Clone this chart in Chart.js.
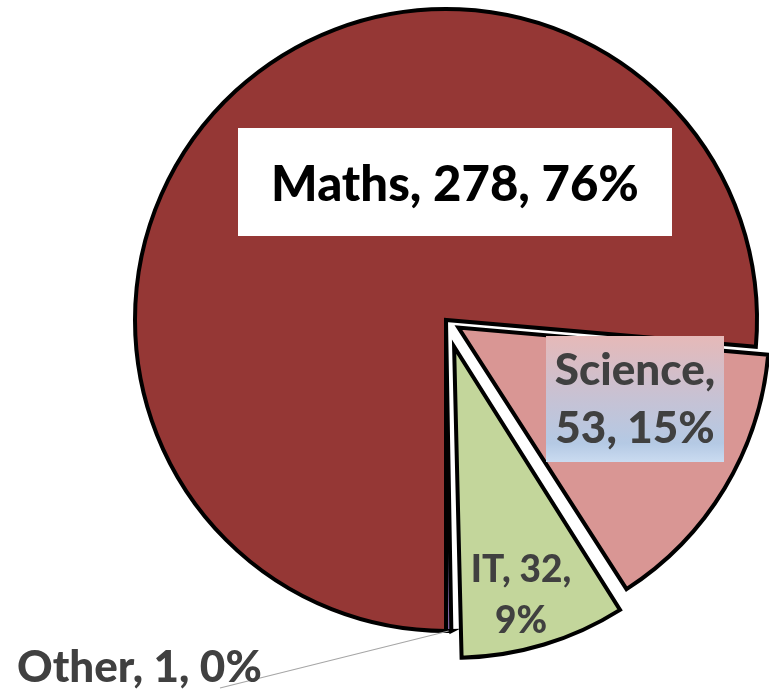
<!DOCTYPE html>
<html>
<head>
<meta charset="utf-8">
<script src="https://cdn.jsdelivr.net/npm/chart.js@4/dist/chart.umd.min.js"></script>
<style>
  html, body { margin: 0; padding: 0; background: #ffffff; }
  #wrap { width: 769px; height: 689px; }
</style>
</head>
<body>
<div id="wrap"><canvas id="c" width="769" height="689"></canvas></div>
<script>
// ---- data ----
const categories = ['Maths', 'Science', 'IT', 'Other'];
const values = [278, 53, 32, 1];

// ---- styles ----
const sliceColors = ['#953735', '#D99694', '#C3D69B', '#8064A2'];
const sliceOffsets = [0, 58, 112, 0];   // Chart.js offset units (px*4 along mid-angle)

const total = values.reduce((a, b) => a + b, 0);

// label layout relative to pie centre
const labelLayout = [
  { font: '900 49px Lato', color: '#000000', wrap: 3, cx: 9, base: [-119], box: { x: -208, y: -192, w: 434, h: 108, fill: 'white' } },
  { font: '900 44px Lato', color: '#404040', wrap: 1, cx: 189, base: [65, 123], box: { x: 100, y: 16, w: 178, h: 126, fill: 'grad' } },
  { font: '900 37px Lato', color: '#404040', wrap: 2, cx: 75, base: [262, 313] },
  { font: '900 44px Lato', color: '#404040', wrap: 3, left: -429, base: [362], leader: { x: -226, y: 368 } }
];

const fixRadiusPlugin = {
  id: 'fixRadius',
  afterDatasetsUpdate(chart) {
    const meta = chart.getDatasetMeta(0);
    meta.data.forEach(el => {
      const off = (el.options && el.options.offset || 0) / 4;
      const fix = 1 - Math.sin(Math.min(Math.PI, el.circumference || 0));
      el.outerRadius = el.outerRadius - off * fix;
    });
  }
};

const labelPlugin = {
  id: 'sliceLabels',
  afterDatasetsDraw(chart) {
    const ctx = chart.ctx;
    const meta = chart.getDatasetMeta(0);
    const c0 = meta.data[0];
    const cx = c0.x, cy = c0.y;
    ctx.save();
    meta.data.forEach((el, i) => {
      const L = labelLayout[i];
      const pct = Math.round(values[i] / total * 100);
      const parts = [categories[i], String(values[i]), pct + '%'];
      let lines;
      if (L.wrap >= 3) lines = [parts.join(', ')];
      else lines = [parts.slice(0, L.wrap).join(', ') + ',', parts.slice(L.wrap).join(', ')];

      if (L.leader) {
        const mid = (el.startAngle + el.endAngle) / 2;
        const r = el.outerRadius;
        ctx.strokeStyle = '#A6A6A6';
        ctx.lineWidth = 1.2;
        ctx.beginPath();
        ctx.moveTo(el.x + Math.cos(mid) * r, el.y + Math.sin(mid) * r);
        ctx.lineTo(cx + L.leader.x, cy + L.leader.y);
        ctx.stroke();
      }
      if (L.box) {
        const b = L.box;
        const bx = cx + b.x, by = cy + b.y;
        if (b.fill === 'grad') {
          const g = ctx.createLinearGradient(0, by, 0, by + b.h);
          g.addColorStop(0, '#E6B9B8');
          g.addColorStop(0.45, '#C9C1D2');
          g.addColorStop(0.85, '#B4C9E4');
          g.addColorStop(1, '#CADBF0');
          ctx.fillStyle = g;
        } else {
          ctx.fillStyle = '#ffffff';
        }
        ctx.fillRect(bx, by, b.w, b.h);
      }
      ctx.font = L.font;
      ctx.fillStyle = L.color;
      ctx.textBaseline = 'alphabetic';
      lines.forEach((t, k) => {
        if (L.left !== undefined) {
          ctx.textAlign = 'left';
          ctx.fillText(t, cx + L.left, cy + L.base[k]);
        } else {
          ctx.textAlign = 'center';
          ctx.fillText(t, cx + L.cx, cy + L.base[k]);
        }
      });
    });
    ctx.restore();
  }
};

new Chart(document.getElementById('c'), {
  type: 'pie',
  data: {
    labels: categories,
    datasets: [{
      data: values,
      backgroundColor: sliceColors,
      borderColor: '#000000',
      borderWidth: 4,
      borderJoinStyle: 'miter',
      offset: sliceOffsets,
      clip: false
    }]
  },
  options: {
    responsive: false,
    animation: false,
    events: [],
    rotation: 180,
    radius: 311,
    layout: { padding: { left: 123, right: 0, top: 0, bottom: 49 } },
    plugins: {
      legend: { display: false },
      tooltip: { enabled: false },
      title: { display: false }
    }
  },
  plugins: [fixRadiusPlugin, labelPlugin]
});
</script>
</body>
</html>
